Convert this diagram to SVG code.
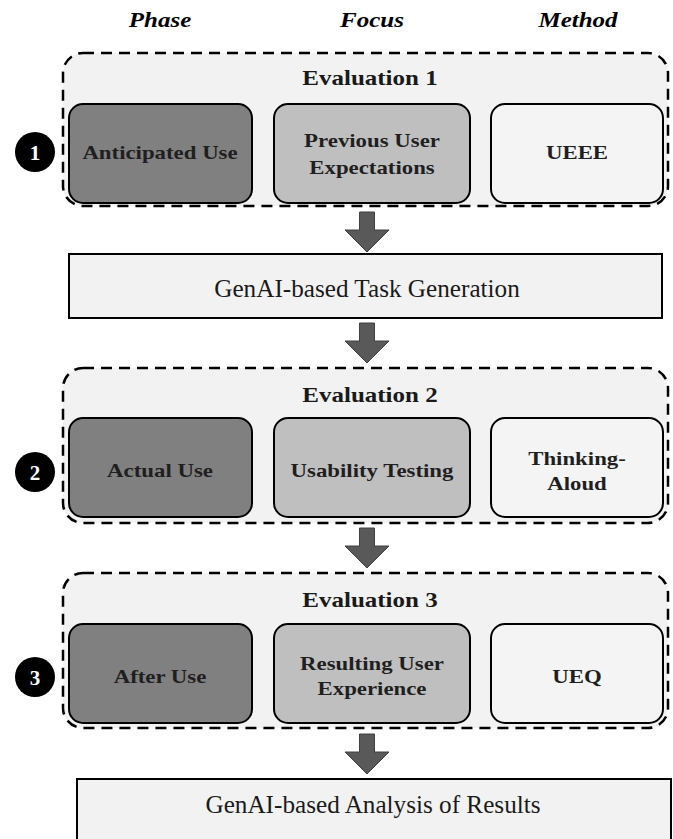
<svg xmlns="http://www.w3.org/2000/svg" width="673" height="839" viewBox="0 0 673 839">
  <style>
    .hdr { font-family: "Liberation Serif", "Times New Roman", serif; font-size: 21px; font-weight: bold; font-style: italic; fill: #000; text-anchor: middle; }
    .evalbox { fill: #f2f2f2; stroke: #000; stroke-width: 2.5; stroke-dasharray: 11 7; }
    .evtitle { font-family: "Liberation Serif", "Times New Roman", serif; font-size: 21px; font-weight: bold; fill: #1a1a1a; text-anchor: middle; }
    .phase { fill: #808080; stroke: #000; stroke-width: 2; }
    .focus { fill: #bfbfbf; stroke: #000; stroke-width: 2; }
    .method { fill: #f4f4f4; stroke: #000; stroke-width: 2; }
    .lbl { font-family: "Liberation Serif", "Times New Roman", serif; font-size: 19.5px; font-weight: bold; fill: #1f1f1f; text-anchor: middle; }
    .step { fill: #f2f2f2; stroke: #000; stroke-width: 2; }
    .steptxt { font-family: "Liberation Serif", "Times New Roman", serif; font-size: 25.2px; fill: #1a1a1a; text-anchor: middle; }
    .badge { fill: #000; }
    .badgetxt { font-family: "Liberation Serif", "Times New Roman", serif; font-size: 21px; font-weight: bold; fill: #fff; text-anchor: middle; }
    .arrow { fill: #595959; stroke: #404040; stroke-width: 1; }
  </style>
  <defs>
    <path id="downArrow" class="arrow" d="M-7.5,0 H7.5 V18 H22 L0,40 L-22,18 H-7.5 Z"/>
  </defs>
  <rect width="673" height="839" fill="#fff"/>

  <!-- column headers (bold faces are set slightly wide) -->
  <g id="headers">
    <text class="hdr" transform="translate(160,27) scale(1.19,1)">Phase</text>
    <text class="hdr" transform="translate(372,27) scale(1.19,1)">Focus</text>
    <text class="hdr" transform="translate(578,27) scale(1.19,1)">Method</text>
  </g>

  <!-- connectors -->
  <g id="connectors">
    <use href="#downArrow" x="367" y="212"/>
    <use href="#downArrow" x="367" y="323"/>
    <use href="#downArrow" x="367" y="528"/>
    <use href="#downArrow" x="367" y="734"/>
  </g>

  <!-- evaluation 1 -->
  <g id="evaluation1">
    <rect class="evalbox" x="63" y="53" width="605" height="153" rx="20"/>
    <text class="evtitle" transform="translate(370,85) scale(1.19,1)">Evaluation 1</text>
    <g id="badge1"><circle class="badge" cx="35" cy="152" r="20"/><text class="badgetxt" x="35" y="159.5">1</text></g>
    <g id="phase1"><rect class="phase" x="69" y="104" width="183" height="99" rx="14"/><text class="lbl" transform="translate(160,159) scale(1.17,1)">Anticipated Use</text></g>
    <g id="focus1"><rect class="focus" x="274" y="104" width="196" height="99" rx="14"/><text class="lbl" transform="translate(372,147) scale(1.17,1)">Previous User</text><text class="lbl" transform="translate(372,174) scale(1.17,1)">Expectations</text></g>
    <g id="method1"><rect class="method" x="491" y="104" width="172" height="99" rx="14"/><text class="lbl" transform="translate(577,159) scale(1.17,1)">UEEE</text></g>
  </g>

  <!-- task generation -->
  <g id="taskGeneration">
    <rect class="step" x="69" y="254" width="593" height="64"/>
    <text class="steptxt" x="367" y="297">GenAI-based Task Generation</text>
  </g>

  <!-- evaluation 2 -->
  <g id="evaluation2">
    <rect class="evalbox" x="63" y="368" width="605" height="155" rx="20"/>
    <text class="evtitle" transform="translate(370,402) scale(1.19,1)">Evaluation 2</text>
    <g id="badge2"><circle class="badge" cx="35" cy="472" r="20"/><text class="badgetxt" x="35" y="479.5">2</text></g>
    <g id="phase2"><rect class="phase" x="69" y="418" width="183" height="99" rx="14"/><text class="lbl" transform="translate(160,477) scale(1.17,1)">Actual Use</text></g>
    <g id="focus2"><rect class="focus" x="274" y="418" width="196" height="99" rx="14"/><text class="lbl" transform="translate(372,477) scale(1.17,1)">Usability Testing</text></g>
    <g id="method2"><rect class="method" x="491" y="418" width="172" height="99" rx="14"/><text class="lbl" transform="translate(577,465) scale(1.17,1)">Thinking-</text><text class="lbl" transform="translate(577,490) scale(1.17,1)">Aloud</text></g>
  </g>

  <!-- evaluation 3 -->
  <g id="evaluation3">
    <rect class="evalbox" x="63" y="573" width="605" height="155" rx="20"/>
    <text class="evtitle" transform="translate(370,607) scale(1.19,1)">Evaluation 3</text>
    <g id="badge3"><circle class="badge" cx="35" cy="677" r="20"/><text class="badgetxt" x="35" y="684.5">3</text></g>
    <g id="phase3"><rect class="phase" x="69" y="624" width="183" height="99" rx="14"/><text class="lbl" transform="translate(160,683) scale(1.17,1)">After Use</text></g>
    <g id="focus3"><rect class="focus" x="274" y="624" width="196" height="99" rx="14"/><text class="lbl" transform="translate(372,670) scale(1.17,1)">Resulting User</text><text class="lbl" transform="translate(372,695) scale(1.17,1)">Experience</text></g>
    <g id="method3"><rect class="method" x="491" y="624" width="172" height="99" rx="14"/><text class="lbl" transform="translate(577,683) scale(1.17,1)">UEQ</text></g>
  </g>

  <!-- analysis of results -->
  <g id="analysis">
    <rect class="step" x="77" y="779" width="594" height="70"/>
    <text class="steptxt" x="373" y="813">GenAI-based Analysis of Results</text>
  </g>
</svg>
